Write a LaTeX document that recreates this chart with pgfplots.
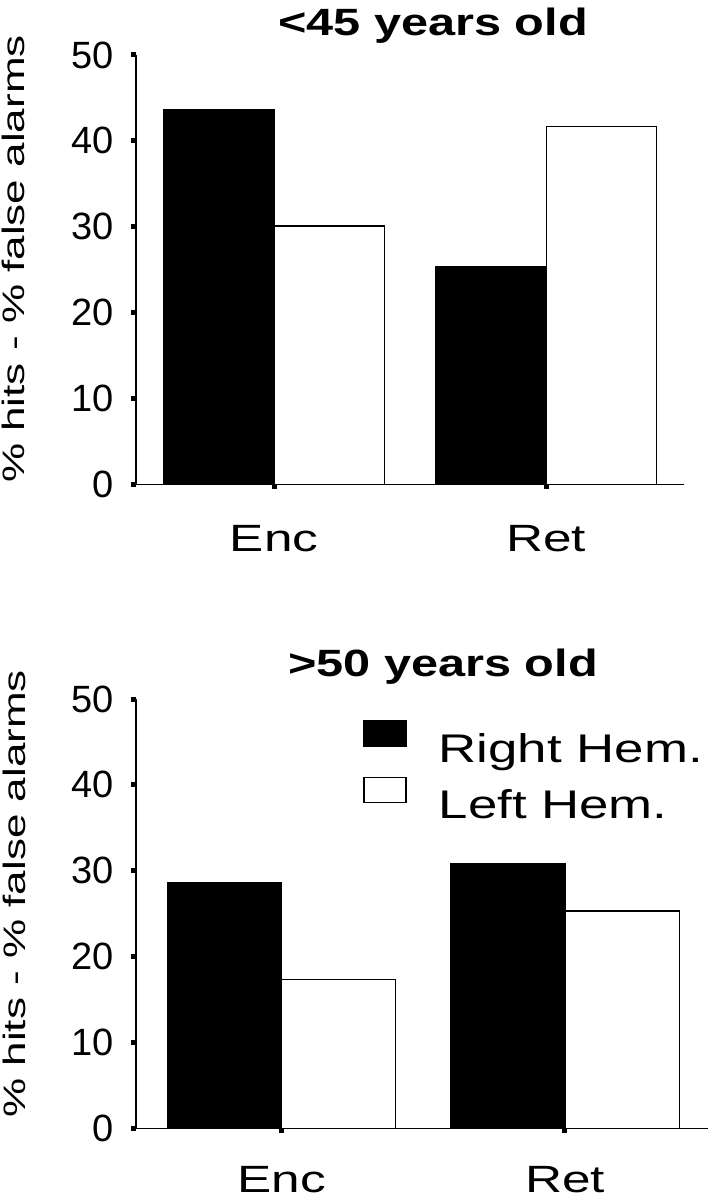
\documentclass[border=0pt]{standalone}
\usepackage{fontspec}
\setmainfont{Liberation Sans}
\usepackage{pgfplots}
\pgfplotsset{compat=1.18}

\pgfplotsset{
  hemi/.style={
    scale only axis,
    clip=false,
    ybar=0pt,
    ymin=0, ymax=50,
    ytick={0,10,...,50},
    xtick={0,1},
    xticklabels={Enc,Ret},
    axis x line*=bottom,
    axis y line*=left,
    axis line style={line width=0.7pt, -},
    tick align=outside,
    major tick length=2.5pt,
    tick style={line width=2.5pt, black},
    /pgf/number format/assume math mode=true,
    yticklabel style={font=\fontsize{19}{22}\selectfont, xshift=-5pt},
    xticklabel style={font=\fontsize{19}{22}\selectfont\addfontfeature{FakeStretch=1.35}, yshift=-14.5pt},
    ylabel={\% hits - \% false alarms},
    ylabel style={font=\fontsize{15.5}{18}\selectfont\addfontfeature{FakeStretch=1.42}, anchor=base},
    title style={font=\fontsize{19}{22}\selectfont\bfseries\addfontfeature{FakeStretch=1.28}, anchor=base, yshift=-5.8pt},
  },
  rh/.style={fill=black, draw=black, line width=0.6pt},
  lh/.style={fill=white, draw=black, line width=0.6pt},
}

\begin{document}
\begin{tikzpicture}
\useasboundingbox (0,0) rectangle (354pt,599.5pt);

% under 45
\begin{axis}[hemi,
    at={(68pt,357.25pt)}, anchor=south west,
    width=274pt, height=214.75pt,
    xmin=-0.507, xmax=1.506, bar width=0.405,
    title={<45 years old},
    title style={at={(axis description cs:0.542,1.044)}},
    ylabel style={at={(axis description cs:-0.2026,0.525)}},
  ]
  \addplot[rh] coordinates {(0,43.7) (1,25.4)};
  \addplot[lh] coordinates {(0,30.1) (1,41.7)};
\end{axis}

% over 50
\begin{axis}[hemi,
    at={(68pt,35.35pt)}, anchor=south west,
    width=286pt, height=214.65pt,
    xmin=-0.514, xmax=1.505, bar width=0.403,
    xticklabel style={yshift=1.5pt},
    title={>50 years old},
    title style={at={(axis description cs:0.537,1.051)}},
    ylabel style={at={(axis description cs:-0.194,0.546)}},
    legend image code/.code={\draw[#1] (0pt,1.5pt) rectangle (21pt,14pt);},
    legend style={draw=none, fill=none, inner sep=0pt,
      at={(0.397,0.951)}, anchor=north west,
      font=\fontsize{20}{24}\selectfont\addfontfeature{FakeStretch=1.32},
      row sep=6pt, column sep=16pt, nodes={inner sep=0pt}},
    legend cell align=left,
  ]
  \addplot[rh] coordinates {(0,28.6) (1,30.8)};
  \addplot[lh] coordinates {(0,17.3) (1,25.3)};
  \legend{Right Hem.,Left Hem.}
\end{axis}
\end{tikzpicture}
\end{document}
